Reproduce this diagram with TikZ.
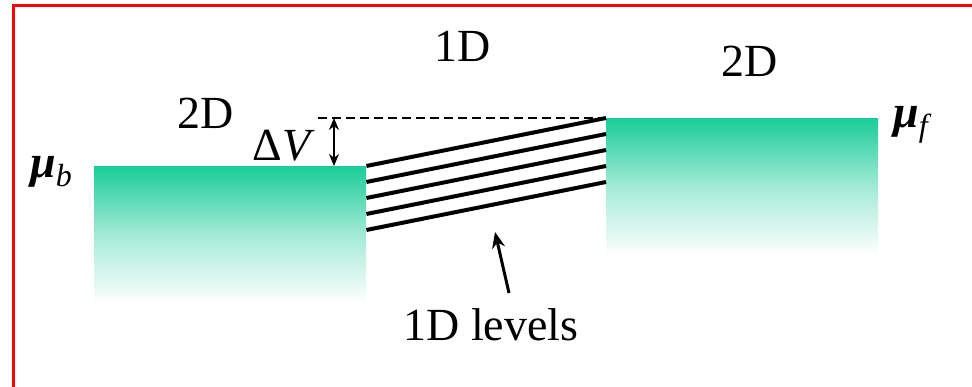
\documentclass[tikz,border=0pt]{standalone}
\usepackage{fontspec}
\setmainfont{Liberation Serif}
\usetikzlibrary{arrows.meta,calc}
\definecolor{sea}{RGB}{26,204,153}
\begin{document}
\begin{tikzpicture}[x=1pt,y=1pt,
  txt/.style={inner sep=0pt,anchor=base,font=\fontsize{46}{50}\selectfont},
  reservoir/.style={shade,top color=sea,bottom color=white,middle color=sea!40,draw=none,inner sep=0pt,minimum width=272pt,minimum height=137pt,anchor=north west},
  level/.style={line width=4pt},
  dim/.style={line width=2.2pt,{Stealth[length=12pt,width=10pt]}-{Stealth[length=12pt,width=10pt]}},
  pointer/.style={line width=3pt,-{Stealth[length=16pt,width=13pt]}}]
\useasboundingbox (0,0) rectangle (972,-387);
\clip (0,0) rectangle (972,-387);
\fill[white] (0,0) rectangle (972,-387);
\draw[red,line width=3pt] (13.5,-5.5) rectangle (1000,-420);
% reservoirs
\node[reservoir] (lbox) at (94,-166) {};
\node[reservoir] (rbox) at (606,-118) {};
% 1D levels
\foreach \k in {0,...,4}{
  \draw[level] ($(lbox.north east)+(0,-16*\k)$) -- ($(rbox.north west)+(0,-16*\k)$);
}
% potential difference
\coordinate (dashstart) at (318,-118);
\draw[line width=2.4pt,dash pattern=on 9pt off 5pt] (dashstart) -- (rbox.north west);
\coordinate (dvtop) at (334,-118);
\coordinate (dvbot) at (334,-166);
\draw[dim] (dvtop) -- (dvbot);
% labels
\node[txt] (oneD) at (463,-62) {1D};
\node[txt] (twoDr) at (750,-77) {2D};
\node[txt] (twoDl) at (206,-129) {2D};
\node[txt] (dV) at (284,-161) {Δ\textit{V}};
\node[txt,anchor=base west] (mub) at (30,-178) {\textbf{\textit{μ}}\raisebox{-9pt}{\fontsize{32}{34}\selectfont\textit{b}}};
\node[txt,anchor=base west] (muf) at (893,-128) {\textbf{\textit{μ}}\raisebox{-9pt}{\fontsize{32}{34}\selectfont\textit{f}}};
\node[txt] (lvl) at (491,-341) {1D levels};
\coordinate (ptail) at (509,-293);
\coordinate (phead) at (495,-232);
\draw[pointer] (ptail) -- (phead);
\end{tikzpicture}
\end{document}
